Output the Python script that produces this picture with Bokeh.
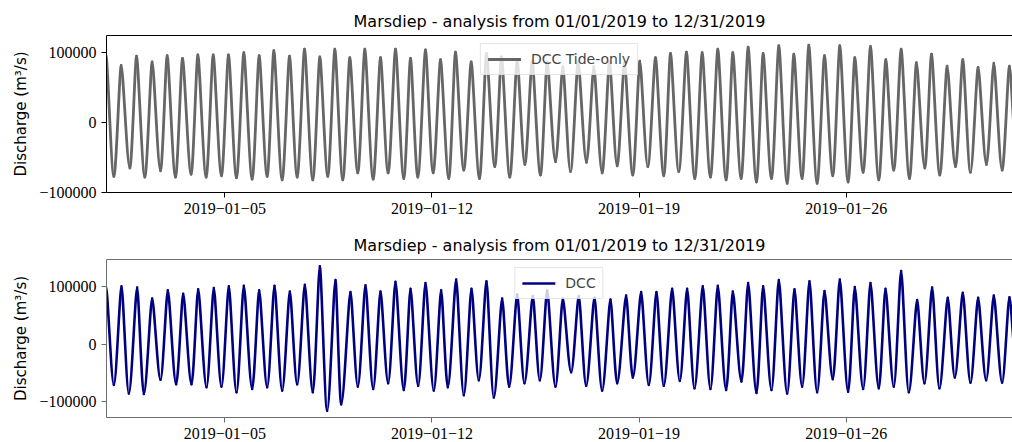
from bokeh.plotting import figure
from bokeh.layouts import column
from bokeh.models import Range1d, FixedTicker, LinearAxis
from bokeh.embed import file_html
from bokeh.resources import INLINE

# ---- data: successive flood peaks / ebb troughs ----
# time in days since 2019-01-01 00:00, discharge in m^3/s
tide_t = [-0.02, 0.248, 0.496, 0.789, 1.014, 1.295, 1.543, 1.825, 2.050, 2.332,
          2.568, 2.861, 3.087, 3.368, 3.605, 3.886, 4.123, 4.393, 4.641, 4.923,
          5.159, 5.430, 5.655, 5.937, 6.185, 6.444, 6.692, 6.973, 7.210, 7.480,
          7.717, 7.987, 8.223, 8.494, 8.730, 9.012, 9.260, 9.519, 9.767, 10.048,
          10.274, 10.522, 10.781, 11.040, 11.288, 11.569, 11.794, 12.076, 12.324, 12.606,
          12.842, 13.124, 13.349, 13.631, 13.879, 14.138, 14.386, 14.667, 14.893, 15.174,
          15.422, 15.681, 15.940, 16.222, 16.470, 16.751, 16.999, 17.258, 17.506, 17.788,
          18.024, 18.295, 18.554, 18.835, 19.061, 19.342, 19.601, 19.883, 20.131, 20.412,
          20.660, 20.942, 21.167, 21.449, 21.685, 21.967, 22.192, 22.474, 22.722, 23.004,
          23.229, 23.510, 23.735, 24.017, 24.265, 24.546, 24.783, 25.065, 25.290, 25.572,
          25.820, 26.101, 26.338, 26.608, 26.856, 27.138, 27.374, 27.656, 27.881, 28.163,
          28.411, 28.692, 28.940, 29.199, 29.458, 29.740, 29.988, 30.269, 30.517, 30.790]
tide_q = [97000, -77000, 82000, -65000, 95000, -78000, 87000, -69000, 96000, -78000,
          92000, -74000, 97000, -78000, 97000, -76000, 97000, -79000, 100000, -81000,
          96000, -77000, 103000, -82000, 95000, -78000, 105000, -82000, 94000, -77000,
          105000, -82000, 93000, -72000, 105000, -81000, 93000, -72000, 105000, -80000,
          92000, -78000, 104000, -72000, 90000, -80000, 101000, -68000, 87000, -80000,
          99000, -63000, 94000, -78000, 90000, -60000, 88000, -75000, 87000, -56000,
          80000, -70000, 87000, -57000, 80000, -72000, 87000, -62000, 86000, -75000,
          88000, -63000, 93000, -76000, 99000, -70000, 101000, -80000, 100000, -78000,
          105000, -82000, 100000, -80000, 108000, -85000, 99000, -80000, 110000, -87000,
          98000, -80000, 111000, -87000, 96000, -76000, 110000, -85000, 93000, -71000,
          109000, -82000, 90000, -68000, 105000, -80000, 86000, -65000, 98000, -75000,
          81000, -63000, 90000, -71000, 79000, -60000, 85000, -68000, 81000, -65000]

dcc_t = [-0.02, 0.248, 0.507, 0.755, 1.036, 1.262, 1.543, 1.825, 2.073, 2.354,
         2.591, 2.873, 3.098, 3.380, 3.627, 3.886, 4.134, 4.393, 4.641, 4.923,
         5.159, 5.430, 5.678, 5.937, 6.196, 6.444, 6.703, 6.973, 7.210, 7.457,
         7.739, 7.931, 8.246, 8.494, 8.753, 9.012, 9.260, 9.519, 9.767, 10.048,
         10.274, 10.533, 10.781, 11.062, 11.310, 11.535, 11.817, 12.076, 12.335, 12.583,
         12.842, 13.090, 13.372, 13.608, 13.879, 14.126, 14.408, 14.645, 14.893, 15.174,
         15.422, 15.703, 15.962, 16.211, 16.492, 16.751, 17.033, 17.258, 17.562, 17.788,
         18.069, 18.328, 18.587, 18.835, 19.117, 19.376, 19.624, 19.872, 20.153, 20.412,
         20.660, 20.942, 21.167, 21.460, 21.685, 21.967, 22.192, 22.474, 22.722, 23.004,
         23.251, 23.510, 23.758, 24.017, 24.265, 24.546, 24.783, 25.065, 25.290, 25.572,
         25.820, 26.101, 26.327, 26.608, 26.856, 27.115, 27.397, 27.644, 27.904, 28.151,
         28.433, 28.670, 28.940, 29.199, 29.458, 29.729, 29.988, 30.269, 30.517, 30.790]
dcc_q = [102000, -71000, 101000, -86000, 99000, -87000, 80000, -62000, 94000, -70000,
         88000, -70000, 96000, -75000, 98000, -74000, 101000, -84000, 102000, -78000,
         94000, -75000, 102000, -81000, 92000, -70000, 104000, -84000, 136000, -116000,
         112000, -105000, 91000, -74000, 103000, -78000, 92000, -68000, 109000, -80000,
         97000, -72500, 107000, -81000, 94000, -75000, 113000, -89000, 97000, -63000,
         110000, -93000, 80000, -74000, 87000, -68000, 84000, -63000, 94000, -74000,
         80000, -49000, 84000, -72500, 81000, -81000, 78000, -68000, 85000, -58000,
         91000, -71000, 91000, -72500, 97000, -64000, 97000, -77000, 101000, -78000,
         102000, -80000, 92000, -65000, 107000, -85000, 101000, -80000, 112000, -86000,
         96000, -74000, 110000, -84000, 93000, -61000, 113000, -83000, 100000, -78000,
         107000, -77000, 97000, -74000, 128000, -84000, 77000, -68000, 99000, -77000,
         81000, -58000, 90000, -67000, 81000, -63000, 85000, -67000, 82000, -60000]

tick_days = [4, 11, 18, 25]
tick_labels = ["2019\u221201\u221205", "2019\u221201\u221212",
               "2019\u221201\u221219", "2019\u221201\u221226"]
y_ticks = [-100000, 0, 100000]
y_tick_labels = ["\u2212100000", "0", "100000"]

title_text = "Marsdiep - analysis from 01/01/2019 to 12/31/2019"
y_label = "Discharge (m\u00b3/s)"

W = 1012


def smooth_segments(t, q, k_peak=0.22, k_trough=0.32):
    x0, y0, x1, y1, cx0, cy0, cx1, cy1 = [], [], [], [], [], [], [], []
    for i in range(len(t) - 1):
        dt = t[i + 1] - t[i]
        k0 = k_peak if q[i] > q[i + 1] else k_trough
        k1 = k_peak if q[i + 1] > q[i] else k_trough
        x0.append(t[i]); y0.append(q[i])
        x1.append(t[i + 1]); y1.append(q[i + 1])
        cx0.append(t[i] + k0 * dt); cy0.append(q[i])
        cx1.append(t[i + 1] - k1 * dt); cy1.append(q[i + 1])
    return dict(x0=x0, y0=y0, x1=x1, y1=y1, cx0=cx0, cy0=cy0, cx1=cx1, cy1=cy1)


def make_panel(t, q, color, label, yr, frame_color, height, top, bottom, lw):
    p = figure(width=W, height=height, output_backend="svg", toolbar_location=None,
               x_range=Range1d(0, 30.62), y_range=Range1d(*yr),
               min_border_left=106, min_border_right=0,
               min_border_top=top, min_border_bottom=bottom)
    p.title.text = title_text
    p.title.align = "center"
    p.title.text_font = "DejaVu Sans"
    p.title.text_font_size = "16px"
    p.title.text_font_style = "normal"
    p.title.text_color = "black"
    p.title.offset = 5
    p.grid.visible = False
    p.outline_line_color = None
    p.background_fill_color = "white"
    p.border_fill_color = "white"

    seg = smooth_segments(t, q)
    p.bezier(x0=seg["x0"], y0=seg["y0"], x1=seg["x1"], y1=seg["y1"],
             cx0=seg["cx0"], cy0=seg["cy0"], cx1=seg["cx1"], cy1=seg["cy1"],
             line_color=color, line_width=lw, line_cap="round", legend_label=label)

    for ax in (p.xaxis[0], p.yaxis[0]):
        ax.axis_line_color = frame_color
        ax.major_tick_line_color = frame_color
        ax.major_tick_out = 5
        ax.major_tick_in = 0
        ax.minor_tick_out = 0
        ax.minor_tick_in = 0
        ax.major_label_text_font = "Liberation Serif"
        ax.major_label_text_font_size = "16px"
        ax.major_label_text_color = "black"
        ax.major_label_standoff = 5

    p.xaxis.ticker = FixedTicker(ticks=tick_days)
    p.xaxis.major_label_overrides = dict(zip(tick_days, tick_labels))
    p.yaxis.ticker = FixedTicker(ticks=y_ticks)
    p.yaxis.major_label_overrides = dict(zip(y_ticks, y_tick_labels))
    p.yaxis.axis_label = y_label
    p.yaxis.axis_label_text_font = "DejaVu Sans"
    p.yaxis.axis_label_text_font_size = "15px"
    p.yaxis.axis_label_text_font_style = "normal"
    p.yaxis.axis_label_text_color = "black"
    p.yaxis.axis_label_standoff = 6

    top_ax = LinearAxis(ticker=FixedTicker(ticks=[]), axis_line_color=frame_color,
                        major_label_text_font_size="0px", major_tick_out=0,
                        major_tick_in=0, minor_tick_out=0, minor_tick_in=0)
    p.add_layout(top_ax, "above")

    lg = p.legend[0]
    lg.location = "top_center"
    lg.label_text_font = "DejaVu Sans"
    lg.label_text_font_size = "14px"
    lg.glyph_width = 33
    lg.glyph_height = 14
    lg.label_height = 14
    lg.label_standoff = 10
    lg.padding = 7
    lg.margin = 8
    lg.border_line_color = "#cccccc"
    lg.background_fill_alpha = 0.8
    return p


p1 = make_panel(tide_t, tide_q, "#666666", "DCC Tide-only", (-100000, 124700),
                "black", 221, 35, 29, 2.8)
p2 = make_panel(dcc_t, dcc_q, "#000080", "DCC", (-128000, 148000),
                "#6e6e6e", 221, 38, 25, 2.6)

layout = column(p1, p2, spacing=0)
open("out.html", "w").write(file_html(layout, INLINE))
